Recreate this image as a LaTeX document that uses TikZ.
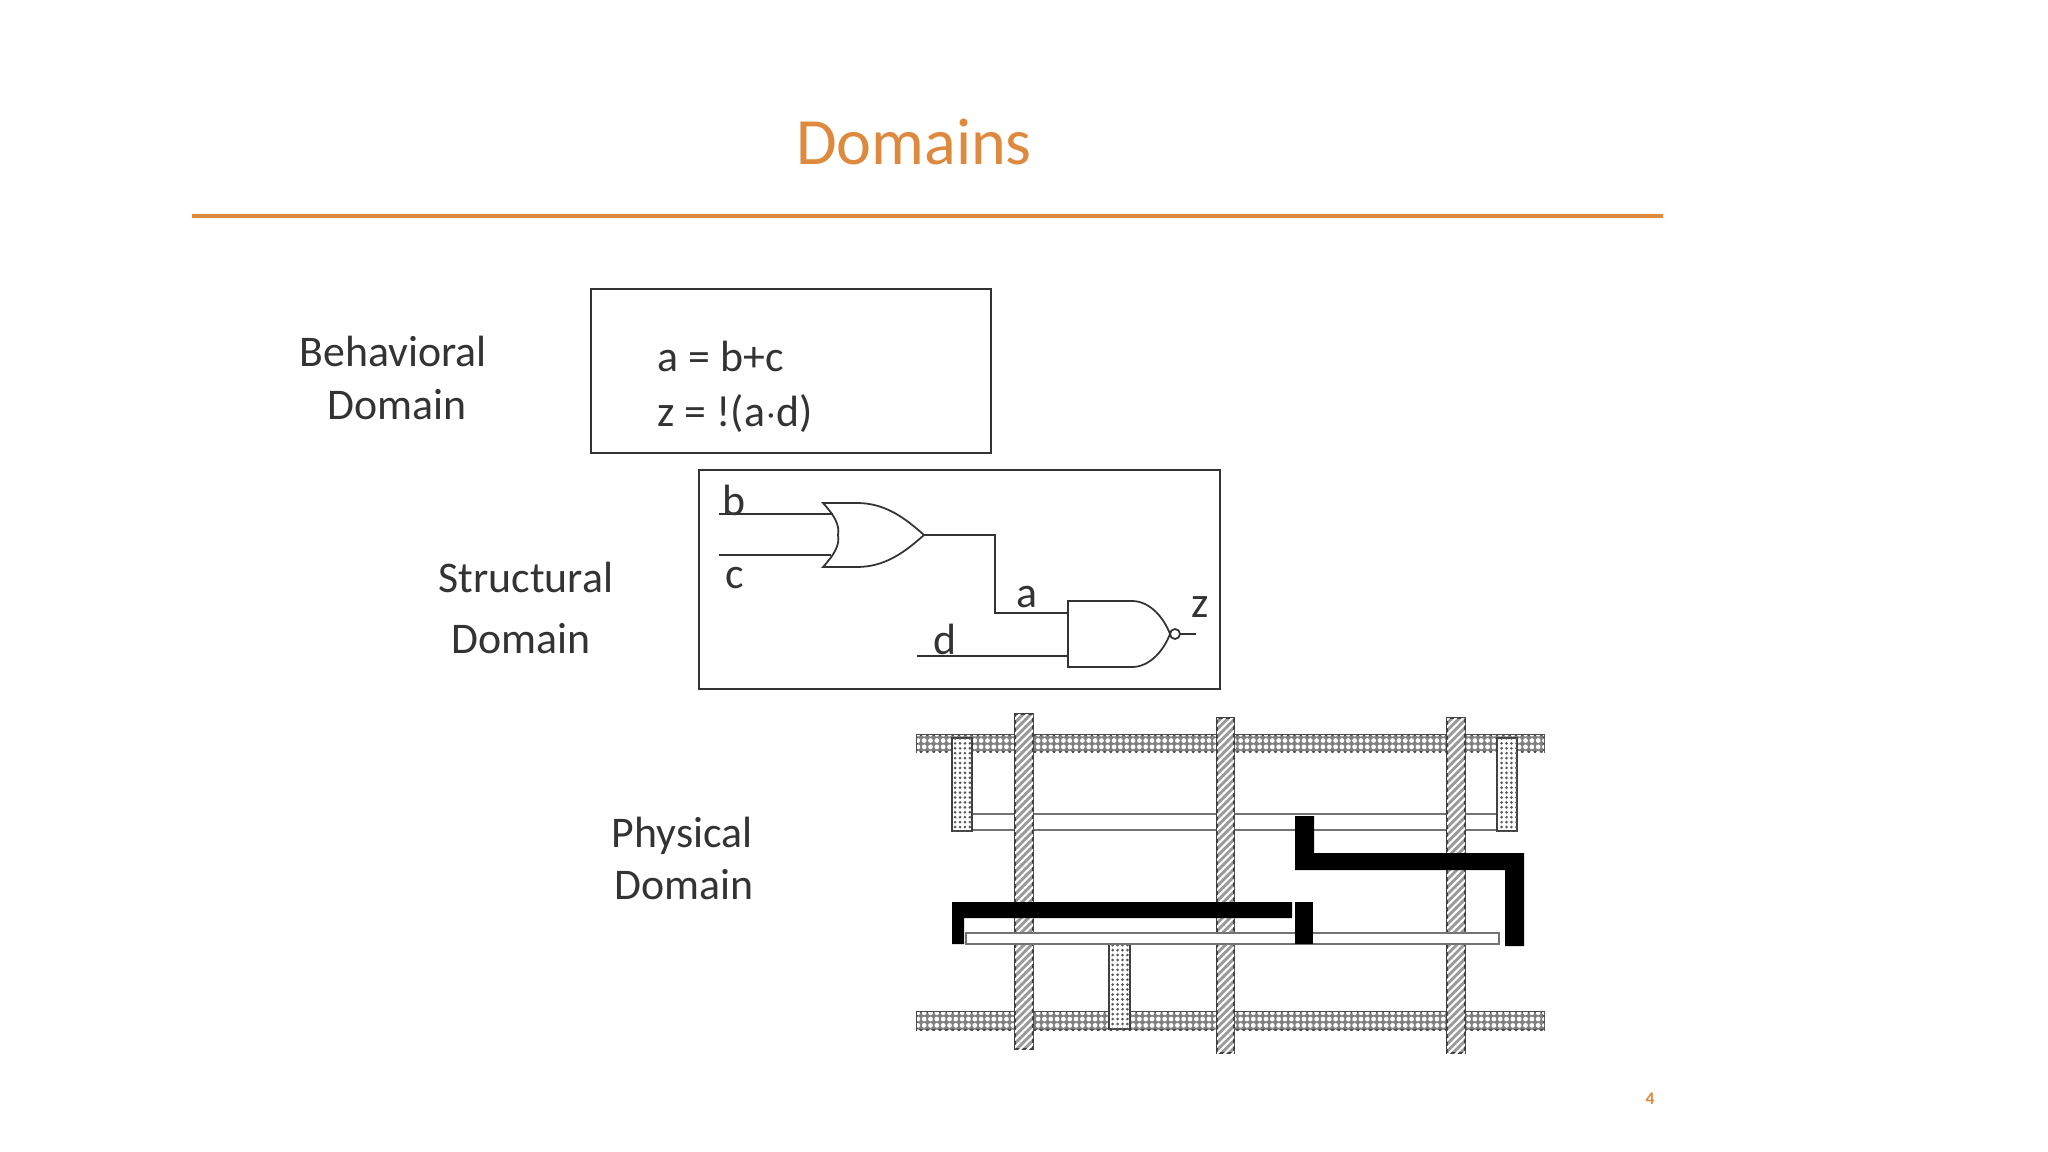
\documentclass[tikz,border=0pt]{standalone}
\usepackage{fontspec}
\setmainfont{Carlito}
\usetikzlibrary{patterns.meta}
\definecolor{titleorange}{HTML}{DD8A3E}
\definecolor{inkgray}{HTML}{333333}
\tikzset{
  label/.style={text=inkgray,font=\fontsize{12.45pt}{15pt}\selectfont,anchor=base,inner sep=0pt},
  framebox/.style={draw=inkgray,line width=0.55pt},
  wire/.style={draw=inkgray,line width=0.5pt},
  diffrail/.style={draw=gray!60!black,line width=0.5pt,fill=gray,postaction={pattern={Dots[distance=1.8pt,radius=0.68pt]},pattern color=white}},
  polybar/.style={draw=gray!50!black,line width=0.55pt,fill=gray!80,postaction={pattern={Lines[angle=45,distance=1.5pt,line width=0.6pt]},pattern color=white}},
  contactbar/.style={draw=gray!50!black,line width=0.55pt,fill=white,postaction={pattern={Dots[distance=1.4pt,radius=0.42pt]},pattern color=gray!70!black}},
  thinbar/.style={draw=gray!90!black,line width=0.6pt,fill=white},
  metalbar/.style={fill=black}
}
\begin{document}
\begin{tikzpicture}[x=0.01cm,y=-0.01cm]
\useasboundingbox (0,0) rectangle (2048,1152);

\node (title) at (914,142) [text=titleorange,font=\fontsize{18.8pt}{22pt}\selectfont] {Domains};
\coordinate (ruleL) at (192,216);
\coordinate (ruleR) at (1663,216);
\draw [titleorange,line width=1.1pt] (ruleL) -- (ruleR);
\node (pagenum) at (1650,1099) [text=titleorange,font=\fontsize{5pt}{6pt}\selectfont\bfseries] {4};

% behavioral
\node (behav1) at (393,367) [label] {Behavioral};
\node (behav2) at (397,420) [label] {Domain};
\draw [framebox] (591,289) rectangle (991,453);
\node (eq1) at (657,372) [label,anchor=base west] {a = b+c};
\node (eq2) at (657,427) [label,anchor=base west] {z = !(a$\cdot$d)};

% structural
\node (struct1) at (526,593) [label] {Structural};
\node (struct2) at (521,653) [label] {Domain};
\draw [framebox] (699,470) rectangle (1220,689);

\coordinate (bIn) at (719,514);
\coordinate (orB) at (833,514);
\coordinate (cIn) at (719,555);
\coordinate (orC) at (831,555);
\coordinate (orOut) at (924,535);
\coordinate (bend1) at (995,535);
\coordinate (bend2) at (995,613);
\coordinate (nandA) at (1068,613);
\coordinate (dIn) at (917,656);
\coordinate (nandD) at (1068,656);
\coordinate (nandOut) at (1180,634);
\coordinate (zOut) at (1196,634);

\draw [wire] (bIn) -- (orB);
\draw [wire] (cIn) -- (orC);
\draw [wire] (orOut) -- (bend1) -- (bend2) -- (nandA);
\draw [wire] (dIn) -- (nandD);
\draw [wire] (nandOut) -- (zOut);

\draw [wire] (823,503) -- (857,503) .. controls (885,503) and (905,518) .. (orOut)
  .. controls (905,552) and (885,567) .. (857,567) -- (823,567)
  .. controls (834,555) and (840,545) .. (838,535)
  .. controls (840,525) and (834,515) .. (823,503) -- cycle;
\draw [wire] (1068,601) -- (1132,601) .. controls (1150,601) and (1164,618) .. (1170,634)
  .. controls (1164,650) and (1150,667) .. (1132,667) -- (1068,667) -- cycle;
\draw [wire] (1175,634) circle (5);

\node (lblb) at (734,515) [label] {b};
\node (lblc) at (735,588) [label] {c};
\node (lbla) at (1027,607) [label] {a};
\node (lbld) at (945,654) [label] {d};
\node (lblz) at (1200,617) [label] {z};

% physical
\node (phys1) at (682,847) [label] {Physical};
\node (phys2) at (684,899) [label] {Domain};

\draw [diffrail] (917,735) rectangle (1544,752);
\draw [diffrail] (917,1012) rectangle (1544,1030);
\draw [thinbar] (972,814) rectangle (1497,830);
\draw [contactbar] (952,738) rectangle (972,831);
\draw [contactbar] (1497,738) rectangle (1517,831);
\draw [contactbar] (1109,943) rectangle (1130,1029);
\draw [polybar] (1015,714) rectangle (1033,1049);
\draw [polybar] (1217,718) rectangle (1234,1053);
\draw [polybar] (1447,718) rectangle (1465,1053);
\draw [thinbar] (966,933) rectangle (1499,944);

\fill [metalbar] (952,902) -- (1292,902) -- (1292,918) -- (964,918) -- (964,944) -- (952,944) -- cycle;
\fill [metalbar] (1295,902) rectangle (1313,944);
\fill [metalbar] (1295,816) -- (1314,816) -- (1314,853) -- (1524,853) -- (1524,946) -- (1505,946) -- (1505,870) -- (1295,870) -- cycle;
\end{tikzpicture}
\end{document}
